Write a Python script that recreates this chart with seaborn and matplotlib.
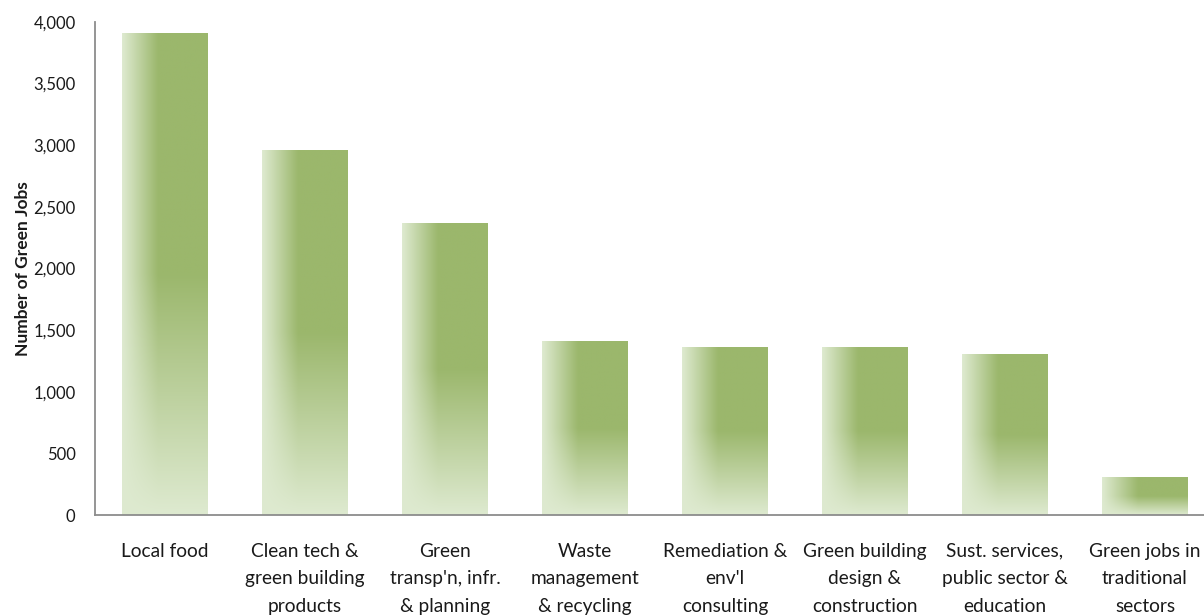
import numpy as np
import pandas as pd
import matplotlib
matplotlib.use("Agg")
import matplotlib.pyplot as plt
import seaborn as sns

categories = ["Local food", "Clean tech &\ngreen building\nproducts", "Green\ntransp'n, infr.\n& planning",
              "Waste\nmanagement\n& recycling", "Remediation &\nenv'l\nconsulting", "Green building\ndesign &\nconstruction",
              "Sust. services,\npublic sector &\neducation", "Green jobs in\ntraditional\nsectors"]
values = [3910, 2960, 2370, 1410, 1365, 1365, 1305, 305]
y_ticks = [0, 500, 1000, 1500, 2000, 2500, 3000, 3500, 4000]

sns.set_theme(style="white")
plt.rcParams['font.family'] = ['Lato', 'DejaVu Sans']

fig = plt.figure(figsize=(12.04, 6.16), dpi=100)
ax = fig.add_axes([95 / 1204, 1 - 515 / 616, 1120 / 1204, 493 / 616])

df = pd.DataFrame({"cat": categories, "val": values})
sns.barplot(data=df, x="cat", y="val", ax=ax, width=0.614, color="#9bb56c", saturation=1)

dark = np.array([155, 183, 108]) / 255
light = np.array([222, 234, 208]) / 255
nx, ny = 100, 200
xs = np.linspace(0, 1, nx)
ys = np.linspace(0, 1, ny)  # 0 = bottom, 1 = top
X, Y = np.meshgrid(xs, ys)
h = np.clip(X / 0.42, 0, 1)
v = np.clip(Y / 0.5, 0, 1)
d = h * v
img = light[None, None, :] * (1 - d[..., None]) + dark[None, None, :] * d[..., None]

for p in ax.patches:
    x0, y0 = p.get_x(), p.get_y()
    w, hh = p.get_width(), p.get_height()
    p.set_facecolor("none")
    p.set_edgecolor("none")
    im = ax.imshow(img, extent=(x0, x0 + w, y0, y0 + hh), origin="lower", aspect="auto",
                   zorder=2, interpolation="bilinear")
    im.set_clip_path(p)

ax.set_xlim(-0.5, len(categories) - 0.5)
ax.set_ylim(0, 4000)
ax.set_yticks(y_ticks)
ax.set_yticklabels([f"{t:,}" for t in y_ticks], fontsize=12, color="#1a1a1a")
ax.set_xticks(range(len(categories)))
ax.set_xticklabels(categories, fontsize=13.8, color="#1a1a1a", va="top", linespacing=1.75)
ax.tick_params(axis="x", length=0, pad=20)
ax.tick_params(axis="y", length=0, pad=14)
ax.set_xlabel("")
ax.set_ylabel("Number of Green Jobs", fontsize=12.5, fontweight="bold", color="#1a1a1a", labelpad=2)

for s in ["top", "right"]:
    ax.spines[s].set_visible(False)
for s in ["left", "bottom"]:
    ax.spines[s].set_color("#8c8c8c")
    ax.spines[s].set_linewidth(1.3)

fig.savefig("out.png", dpi=100)
